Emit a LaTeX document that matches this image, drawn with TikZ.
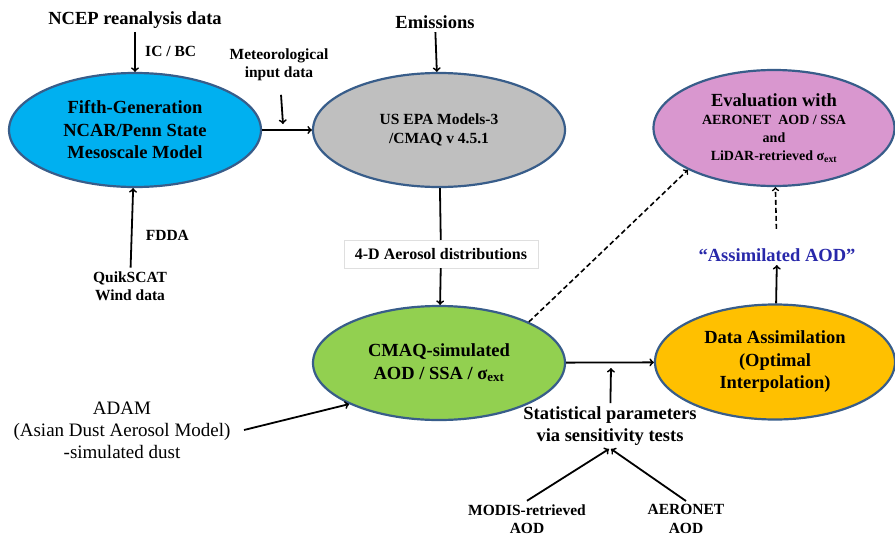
\documentclass[tikz,border=0pt]{standalone}
\usepackage{fontspec}
\setmainfont{Liberation Serif}
\usetikzlibrary{shapes.geometric}

\definecolor{mmblue}{RGB}{0,176,240}
\definecolor{cmaqgray}{RGB}{191,191,191}
\definecolor{evalpink}{RGB}{217,151,207}
\definecolor{simgreen}{RGB}{146,208,80}
\definecolor{daorange}{RGB}{255,192,0}
\definecolor{rimblue}{RGB}{56,93,138}
\definecolor{aodblue}{RGB}{40,40,170}

\begin{document}
\begin{tikzpicture}[x=1pt,y=-1pt,
    model/.style={ellipse, draw=rimblue, line width=2.2pt, inner sep=0pt, align=center,
      font=\bfseries\fontsize{18.5}{22.5}\selectfont},
    lbl/.style={align=center, font=\bfseries\fontsize{15.5}{18.5}\selectfont},
    biglbl/.style={align=center, font=\bfseries\fontsize{18.5}{22}\selectfont},
    flow/.style={->, line width=1.8pt},
    dashflow/.style={->, line width=1.6pt, dash pattern=on 5pt off 3pt}]
    \useasboundingbox (0,0) rectangle (895,536);

    % models
    \node[model, fill=mmblue, minimum width=252, minimum height=114] (mm5) at (135,130)
        {Fifth-Generation\\NCAR/Penn State\\Mesoscale Model};
    \node[model, fill=cmaqgray, minimum width=252, minimum height=114,
          font=\bfseries\fontsize{15.5}{18.5}\selectfont] (cmaq) at (439,130)
        {US EPA Models-3\\/CMAQ v 4.5.1};
    \node[model, fill=evalpink, minimum width=241, minimum height=116,
          font=\bfseries\fontsize{14}{18}\selectfont] (evalu) at (774,128)
        {\fontsize{18.5}{20}\selectfont Evaluation with\\AERONET~~AOD / SSA\\and\\LiDAR-retrieved σ\textsubscript{ext}};
    \node[model, fill=simgreen, minimum width=252, minimum height=114] (sim) at (439,363)
        {CMAQ-simulated\\AOD / SSA / σ\textsubscript{ext}};
    \node[model, fill=daorange, minimum width=240, minimum height=115] (assim) at (775,362)
        {Data Assimilation\\(Optimal\\Interpolation)};

    % inputs and labels
    \node[biglbl] (ncep) at (135,20) {NCEP reanalysis data};
    \node[biglbl] (emis) at (435,22) {Emissions};
    \node[lbl] (met) at (279,65) {Meteorological\\input data};
    \node[lbl] (quik) at (130,286) {QuikSCAT\\Wind data};
    \node[align=center, font=\fontsize{19}{22}\selectfont] (adam) at (122,430)
        {ADAM\\(Asian Dust Aerosol Model)\\-simulated dust};
    \node[draw=gray!25, fill=white, minimum width=194, minimum height=28,
          font=\bfseries\fontsize{16}{19}\selectfont] (aod4d) at (441,254) {4-D Aerosol distributions};
    \node[biglbl, text=aodblue] (assimaod) at (777,255) {“Assimilated AOD”};
    \node[biglbl] (stat) at (610,426) {Statistical parameters\\via sensitivity tests};
    \node[lbl] (modis) at (527,519) {MODIS-retrieved\\AOD};
    \node[lbl] (aeronet) at (686,519) {AERONET\\AOD};

    \coordinate (metend) at (283,124);
    \coordinate (statend) at (611,368);

    % connectors
    \draw[flow] (ncep) -- node[lbl, right=6pt] {IC / BC} (mm5);
    \draw[flow] (quik) -- node[lbl, right=10pt, pos=0.4] {FDDA} (mm5);
    \draw[flow] (mm5) -- (cmaq);
    \draw[flow, shorten <=10pt] (met) -- (metend);
    \draw[flow] (emis) -- (cmaq);
    \draw[line width=1.8pt] (cmaq) -- (aod4d);
    \draw[flow] (aod4d) -- (sim);
    \draw[dashflow] (sim.north east) -- (evalu.south west);
    \draw[flow] (sim) -- (assim);
    \draw[flow] (stat) -- (statend);
    \draw[flow] (modis.north) -- ([xshift=-1]stat.south);
    \draw[flow] (aeronet.north) -- ([xshift=1]stat.south);
    \draw[flow] ([xshift=10]adam.east) -- (sim.south west);
    \draw[flow] (assim) -- (assimaod);
    \draw[dashflow, shorten <=16pt] (assimaod) -- (evalu);
\end{tikzpicture}
\end{document}
